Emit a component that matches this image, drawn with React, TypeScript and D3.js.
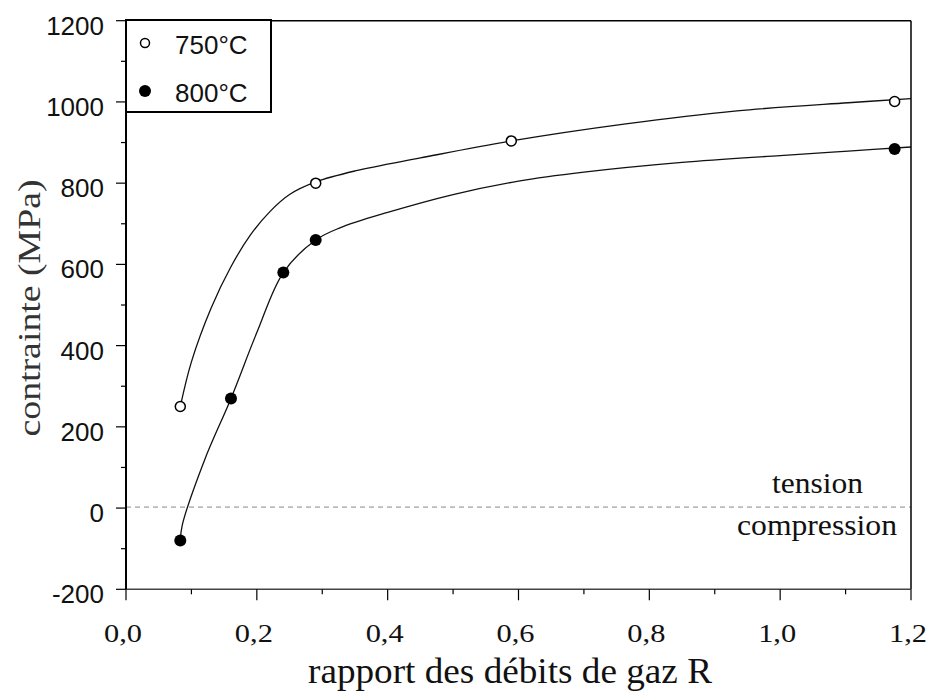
import React from "react";
import * as d3 from "d3";

// Measured data points
const r750 = [0.083, 0.29, 0.589, 1.175];
const s750 = [250, 800, 904, 1001];
const r800 = [0.083, 0.1605, 0.2405, 0.29, 1.175];
const s800 = [-80, 270, 580, 660, 884];

// Fitted curves
const fit750R = [0.083, 0.1, 0.13, 0.16, 0.19, 0.22, 0.25, 0.29, 0.35, 0.45, 0.589, 0.764, 0.934, 1.104, 1.2];
const fit750S = [250, 360, 492, 593, 672, 730, 772, 803, 830, 862, 904, 946, 978, 998, 1008];
const fit800R = [0.083, 0.086, 0.12, 0.1605, 0.2, 0.2405, 0.29, 0.327, 0.4, 0.5, 0.6, 0.7, 0.85, 1.0, 1.104, 1.2];
const fit800S = [-80, -42, 118, 270, 432, 580, 660, 690, 728, 772, 805, 827, 851, 868, 879, 889];

const xMajor = [0, 0.2, 0.4, 0.6, 0.8, 1.0, 1.2];
const xMinor = [0.1, 0.3, 0.5, 0.7, 0.9, 1.1];
const xLabels = ["0,0", "0,2", "0,4", "0,6", "0,8", "1,0", "1,2"];
const yMajor = [-200, 0, 200, 400, 600, 800, 1000, 1200];
const yMinor = [-100, 100, 300, 500, 700, 900, 1100];
const legendLabels = ["750°C", "800°C"];

export default function App() {
  const L = 126, R = 911, T = 20.7, B = 589.3;
  const x = d3.scaleLinear().domain([0, 1.2]).range([L, R]);
  const y = d3.scaleLinear().domain([-200, 1200]).range([B, T]);
  const line = d3
    .line<[number, number]>()
    .x((d) => x(d[0]))
    .y((d) => y(d[1]))
    .curve(d3.curveCatmullRom.alpha(0.5));
  const p750 = line(fit750R.map((r, i) => [r, fit750S[i]]) as [number, number][]) || "";
  const p800 = line(fit800R.map((r, i) => [r, fit800S[i]]) as [number, number][]) || "";
  const serif = "'Liberation Serif', 'Times New Roman', serif";
  const sans = "'Liberation Sans', Arial, sans-serif";

  return (
    <svg
      width={930}
      height={692}
      style={{ position: "absolute", left: 0, top: 0, background: "#fff" }}
    >
      <rect x={0} y={0} width={930} height={692} fill="#fff" />
      {/* zero line */}
      <line x1={L} x2={R} y1={y(0) - 1} y2={y(0) - 1} stroke="#888" strokeWidth={1} strokeDasharray="5,4" />
      {/* curves */}
      <path d={p750} fill="none" stroke="#111" strokeWidth={1.3} />
      <path d={p800} fill="none" stroke="#111" strokeWidth={1.3} />
      {/* markers */}
      {r750.map((r, i) => (
        <circle key={"a" + i} cx={x(r)} cy={y(s750[i])} r={5} fill="#fff" stroke="#000" strokeWidth={1.5} />
      ))}
      {r800.map((r, i) => (
        <circle key={"b" + i} cx={x(r)} cy={y(s800[i])} r={6} fill="#000" />
      ))}
      {/* frame */}
      <line x1={L} x2={R} y1={T} y2={T} stroke="#000" strokeWidth={1.5} />
      <line x1={R} x2={R} y1={T} y2={B} stroke="#000" strokeWidth={1.5} />
      <line x1={L} x2={R} y1={B} y2={B} stroke="#444" strokeWidth={1.5} />
      <line x1={L} x2={L} y1={T} y2={B} stroke="#000" strokeWidth={2} />
      {/* y ticks */}
      {yMajor.map((v) => (
        <g key={"ym" + v}>
          <line x1={L - 10} x2={L} y1={y(v)} y2={y(v)} stroke="#000" strokeWidth={1.2} />
          <text x={104} y={y(v) + 14} textAnchor="end" fontFamily={sans} fontSize={26} fill="#111">
            {v}
          </text>
        </g>
      ))}
      {yMinor.map((v) => (
        <line key={"yn" + v} x1={L - 5} x2={L} y1={y(v)} y2={y(v)} stroke="#000" strokeWidth={1.2} />
      ))}
      {/* x ticks */}
      {xMajor.map((v, i) => (
        <g key={"xm" + v}>
          <line x1={x(v)} x2={x(v)} y1={B} y2={B + 11} stroke="#000" strokeWidth={1.2} />
          <text
            x={x(v) - 3}
            y={642}
            textAnchor="middle"
            fontFamily={serif}
            fontSize={26}
            textLength={38}
            lengthAdjust="spacingAndGlyphs"
            fill="#111"
          >
            {xLabels[i]}
          </text>
        </g>
      ))}
      {xMinor.map((v) => (
        <line key={"xn" + v} x1={x(v)} x2={x(v)} y1={B} y2={B + 5} stroke="#000" strokeWidth={1.2} />
      ))}
      {/* axis titles */}
      <text
        x={510}
        y={683}
        textAnchor="middle"
        fontFamily={serif}
        fontSize={36}
        textLength={404}
        lengthAdjust="spacingAndGlyphs"
        fill="#111"
      >
        rapport des débits de gaz R
      </text>
      <text
        transform="translate(40,308) rotate(-90)"
        textAnchor="middle"
        fontFamily={serif}
        fontSize={32}
        textLength={257}
        lengthAdjust="spacingAndGlyphs"
        fill="#333"
      >
        contrainte (MPa)
      </text>
      {/* annotations */}
      <text x={772} y={493} fontFamily={serif} fontSize={30} textLength={91} lengthAdjust="spacingAndGlyphs" fill="#111">
        tension
      </text>
      <text x={737} y={535} fontFamily={serif} fontSize={30} textLength={160} lengthAdjust="spacingAndGlyphs" fill="#111">
        compression
      </text>
      {/* legend */}
      <rect x={126} y={20} width={145} height={92} fill="#fff" stroke="#000" strokeWidth={2} />
      <circle cx={145} cy={43} r={4.5} fill="#fff" stroke="#000" strokeWidth={1.5} />
      <circle cx={145} cy={91} r={6} fill="#000" />
      <text x={175} y={54} fontFamily={sans} fontSize={26} fill="#111">
        {legendLabels[0]}
      </text>
      <text x={175} y={102} fontFamily={sans} fontSize={26} fill="#111">
        {legendLabels[1]}
      </text>
    </svg>
  );
}
